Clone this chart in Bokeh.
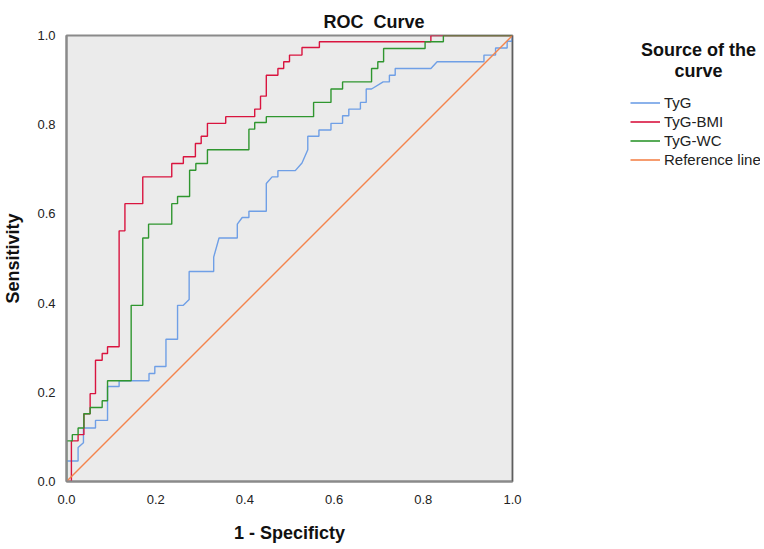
from bokeh.plotting import figure
from bokeh.layouts import row
from bokeh.models import Range1d, Legend, LegendItem, Label, Span, PrintfTickFormatter, FixedTicker
from bokeh.embed import file_html
from bokeh.resources import INLINE

# ---- data ----
tyg_fpr = [0, 0, 0.026, 0.026, 0.038, 0.038, 0.065, 0.065, 0.092, 0.092, 0.118, 0.118,
           0.185, 0.185, 0.198, 0.198, 0.223, 0.223, 0.249, 0.249, 0.262, 0.275, 0.275,
           0.330, 0.330, 0.342, 0.383, 0.383, 0.394, 0.409, 0.409, 0.448, 0.448, 0.461,
           0.474, 0.474, 0.513, 0.528, 0.541, 0.541, 0.566, 0.566, 0.593, 0.593, 0.619,
           0.619, 0.633, 0.633, 0.659, 0.659, 0.672, 0.672, 0.684, 0.710, 0.724, 0.724,
           0.737, 0.737, 0.817, 0.831, 0.936, 0.936, 0.962, 0.962, 0.988, 0.988, 0.999, 1.0]
tyg_tpr = [0, 0.046, 0.046, 0.076, 0.087, 0.120, 0.120, 0.137, 0.137, 0.213, 0.213, 0.226,
           0.226, 0.242, 0.242, 0.258, 0.258, 0.319, 0.319, 0.395, 0.395, 0.408, 0.471,
           0.471, 0.503, 0.546, 0.546, 0.577, 0.592, 0.592, 0.606, 0.606, 0.668, 0.683,
           0.683, 0.697, 0.697, 0.714, 0.744, 0.774, 0.774, 0.788, 0.788, 0.803, 0.803,
           0.820, 0.820, 0.835, 0.835, 0.850, 0.850, 0.880, 0.880, 0.896, 0.896, 0.911,
           0.911, 0.926, 0.926, 0.941, 0.941, 0.956, 0.956, 0.972, 0.972, 0.987, 0.987, 1.0]

bmi_fpr = [0, 0.011, 0.011, 0.026, 0.026, 0.039, 0.039, 0.053, 0.053, 0.065, 0.065, 0.080,
           0.080, 0.092, 0.092, 0.118, 0.118, 0.131, 0.131, 0.171, 0.171, 0.236, 0.236,
           0.262, 0.262, 0.289, 0.289, 0.302, 0.302, 0.316, 0.316, 0.357, 0.357, 0.422,
           0.422, 0.435, 0.435, 0.448, 0.448, 0.474, 0.474, 0.487, 0.487, 0.500, 0.500,
           0.528, 0.528, 0.567, 0.567, 0.817, 0.817, 1.0]
bmi_tpr = [0, 0, 0.091, 0.091, 0.105, 0.105, 0.152, 0.152, 0.197, 0.197, 0.272, 0.272,
           0.287, 0.287, 0.302, 0.302, 0.562, 0.562, 0.623, 0.623, 0.683, 0.683, 0.713,
           0.713, 0.728, 0.728, 0.758, 0.758, 0.774, 0.774, 0.803, 0.803, 0.818, 0.818,
           0.835, 0.835, 0.864, 0.864, 0.911, 0.911, 0.926, 0.926, 0.941, 0.941, 0.956,
           0.956, 0.973, 0.973, 0.986, 0.986, 1.0, 1.0]

wc_fpr = [0, 0, 0.013, 0.013, 0.026, 0.026, 0.039, 0.039, 0.053, 0.053, 0.080, 0.080,
          0.092, 0.092, 0.145, 0.145, 0.171, 0.171, 0.184, 0.184, 0.236, 0.236, 0.249,
          0.249, 0.276, 0.276, 0.290, 0.290, 0.316, 0.316, 0.409, 0.409, 0.422, 0.422,
          0.448, 0.448, 0.554, 0.554, 0.593, 0.593, 0.619, 0.619, 0.684, 0.684, 0.698,
          0.698, 0.711, 0.711, 0.804, 0.804, 0.845, 0.845, 1.0]
wc_tpr = [0, 0.091, 0.091, 0.105, 0.105, 0.120, 0.120, 0.152, 0.152, 0.166, 0.166, 0.181,
          0.181, 0.226, 0.226, 0.395, 0.395, 0.546, 0.546, 0.577, 0.577, 0.623, 0.623,
          0.639, 0.639, 0.698, 0.698, 0.713, 0.713, 0.744, 0.744, 0.790, 0.790, 0.805,
          0.805, 0.818, 0.818, 0.850, 0.850, 0.880, 0.880, 0.896, 0.896, 0.926, 0.926,
          0.941, 0.941, 0.971, 0.971, 0.986, 0.986, 1.0, 1.0]

ref_x = [0, 1]
ref_y = [0, 1]

ticks = [0.0, 0.2, 0.4, 0.6, 0.8, 1.0]
series_names = ["TyG", "TyG-BMI", "TyG-WC", "Reference line"]
colors = ["#6f9fe6", "#d9143f", "#2f962f", "#f4844c"]
legend_title_lines = ["Source of the", "curve"]

FONT = "Liberation Sans"

# ---------------- main ROC figure ----------------
p = figure(width=522, height=545, x_range=Range1d(0, 1), y_range=Range1d(0, 1),
           output_backend="svg", toolbar_location=None,
           min_border_left=63, min_border_right=10, min_border_top=35, min_border_bottom=61)

p.background_fill_color = "#ebebeb"
p.border_fill_color = "white"
p.outline_line_color = "#8a8a8a"
p.outline_line_width = 2
p.xgrid.visible = False
p.ygrid.visible = False

p.title.text = "ROC\u00a0 Curve"
p.title.align = "left"
p.title.offset = 257
p.title.standoff = 8
p.title.text_font = FONT
p.title.text_font_size = "18px"
p.title.text_font_style = "bold"
p.title.text_color = "#111111"

for ax in (p.xaxis[0], p.yaxis[0]):
    ax.ticker = FixedTicker(ticks=ticks)
    ax.formatter = PrintfTickFormatter(format="%.1f")
    ax.major_tick_line_color = None
    ax.minor_tick_line_color = None
    ax.axis_line_color = "#8a8a8a"
    ax.axis_line_width = 2
    ax.major_label_text_font = FONT
    ax.major_label_text_font_size = "13px"
    ax.major_label_text_color = "#222222"
    ax.axis_label_text_font = FONT
    ax.axis_label_text_font_size = "18px"
    ax.axis_label_text_font_style = "bold"
    ax.axis_label_text_color = "#111111"

p.xaxis.axis_label = "1 - Specificty"
p.yaxis.axis_label = "Sensitivity"
p.xaxis.major_label_standoff = 7
p.yaxis.major_label_standoff = 5
p.xaxis.axis_label_standoff = 16
p.yaxis.axis_label_standoff = 11

# dark right border of the plot area
p.add_layout(Span(location=1, dimension="height", line_color="#333333", line_width=1.2))

p.line(tyg_fpr, tyg_tpr, line_color=colors[0], line_width=1.4)
p.line(bmi_fpr, bmi_tpr, line_color=colors[1], line_width=1.4)
p.line(wc_fpr, wc_tpr, line_color=colors[2], line_width=1.4)
p.line(ref_x, ref_y, line_color=colors[3], line_width=1.4)

# ---------------- legend panel (frame rows aligned with the main plot area) ----------------
q = figure(width=238, height=545, x_range=Range1d(0, 238), y_range=Range1d(484, 35),
           x_axis_type=None, y_axis_type=None, output_backend="svg", toolbar_location=None,
           min_border_left=0, min_border_right=0, min_border_top=35, min_border_bottom=61)
q.outline_line_color = None
q.background_fill_color = "white"
q.border_fill_color = "white"
q.grid.visible = False

# legend proxies: one undrawable (NaN) point each, carrying the series styles
nan = float("nan")
proxies = [q.line(x=[nan], y=[nan], line_color=c, line_width=1.6) for c in colors]
legend = Legend(items=[LegendItem(label=n, renderers=[r]) for n, r in zip(series_names, proxies)],
                location=(108, 312), glyph_width=30, glyph_height=19, label_height=19,
                spacing=0, padding=0, margin=0, label_standoff=4,
                label_text_font=FONT, label_text_font_size="15px", label_text_color="#222222",
                border_line_color=None, background_fill_alpha=0)
q.add_layout(legend, "center")

for txt, yy in zip(legend_title_lines, [50, 71]):
    q.add_layout(Label(x=176, y=yy, text=txt, text_font=FONT, text_font_size="18px",
                       text_font_style="bold", text_align="center", text_baseline="middle",
                       text_color="#111111"))

layout = row(p, q)
open("out.html", "w").write(file_html(layout, INLINE))
